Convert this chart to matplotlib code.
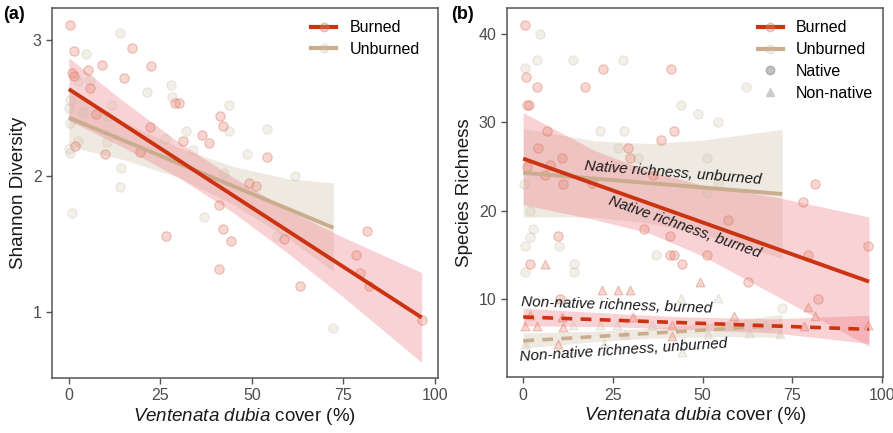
import matplotlib
matplotlib.use("Agg")
import matplotlib.pyplot as plt
from matplotlib.lines import Line2D

plt.rcParams['font.family'] = ['Liberation Sans', 'DejaVu Sans']
plt.rcParams['mathtext.fontset'] = 'custom'
plt.rcParams['mathtext.it'] = 'Liberation Sans:italic'
plt.rcParams['mathtext.rm'] = 'Liberation Sans'

# ---- panel (a): Shannon diversity ----
A_BURN_X = [0.4, 1.3, 0.8, 1.3, 5.2, 9.0, 5.8, 15.1, 17.2, 22.4, 29.0, 30.0, 22.2, 1.8, 10.0,
            19.5, 7.5, 31.3, 36.5, 38.4, 41.3, 42.1, 54.1, 49.3, 51.2, 40.9, 26.5, 42.1, 44.3,
            40.9, 58.8, 63.2, 81.5, 78.4, 79.5, 82.1, 96.4]
A_BURN_Y = [3.11, 2.92, 2.76, 2.74, 2.78, 2.82, 2.65, 2.72, 2.94, 2.81, 2.54, 2.54, 2.36, 2.22, 2.16,
            2.18, 2.46, 2.26, 2.30, 2.24, 2.44, 2.37, 2.14, 1.95, 1.93, 1.79, 1.56, 1.61, 1.52,
            1.32, 1.54, 1.19, 1.60, 1.42, 1.29, 1.19, 0.94]
A_UNB_X = [13.9, 4.8, 2.6, 0.4, 0.0, 0.4, 2.6, 0.0, 0.4, 3.9, 5.9, 11.8, 10.4, 10.4, 14.2, 14.0,
           21.3, 27.9, 28.2, 26.3, 32.1, 33.9, 43.9, 43.9, 48.6, 54.1, 42.4, 61.8, 0.9, 37.0,
           56.8, 72.3]
A_UNB_Y = [3.05, 2.90, 2.70, 2.56, 2.50, 2.39, 2.26, 2.20, 2.17, 2.47, 2.71, 2.52, 2.44, 2.25, 2.06, 1.92,
           2.62, 2.67, 2.58, 2.27, 2.33, 2.19, 2.52, 2.33, 2.16, 2.35, 2.02, 2.00, 1.73, 1.70,
           1.56, 0.88]

# fitted lines (start, end) and confidence bands
A_BURN_FIT_X = [0, 96.4]
A_BURN_FIT_Y = [2.64, 0.96]
A_BURN_BAND_X = [0, 15, 30, 45, 60, 75, 96.4]
A_BURN_BAND_LO = [2.41, 2.21, 1.99, 1.73, 1.43, 1.11, 0.63]
A_BURN_BAND_HI = [2.87, 2.55, 2.25, 1.99, 1.75, 1.55, 1.29]
A_UNB_FIT_X = [0, 72.3]
A_UNB_FIT_Y = [2.43, 1.62]
A_UNB_BAND_X = [0, 15, 30, 45, 60, 72.3]
A_UNB_BAND_LO = [2.22, 2.12, 1.99, 1.79, 1.54, 1.30]
A_UNB_BAND_HI = [2.64, 2.40, 2.21, 2.07, 1.98, 1.95]

# ---- panel (b): species richness ----
NAT_BURN_X = [0.6, 0.8, 3.8, 1.0, 1.6, 22.2, 17.3, 41.2, 6.6, 42.1, 38.4, 4.1, 10.8, 29.2, 29.8,
              1.0, 7.5, 6.1, 11.2, 19.1, 36.3, 9.8, 1.8, 40.9, 40.9, 42.1, 44.2, 33.7, 51.2, 57.2,
              62.8, 79.5, 78.1, 81.3, 96.2, 82.3, 10.3]
NAT_BURN_Y = [41.0, 35.1, 34.0, 32.0, 32.0, 36.0, 34.0, 36.0, 29.0, 29.0, 28.0, 27.1, 26.0, 27.1, 26.0,
              25.0, 25.2, 24.0, 23.0, 23.1, 24.0, 17.1, 14.0, 17.1, 15.0, 15.0, 14.0, 18.0, 15.0, 19.0,
              12.0, 15.0, 21.0, 23.0, 16.0, 10.0, 10.0]
NAT_UNB_X = [4.7, 3.8, 0.4, 13.8, 27.8, 44.0, 48.7, 21.4, 28.1, 62.0, 54.2, 26.4, 32.1, 51.3, 0.1,
             54.4, 51.2, 1.9, 2.6, 1.9, 0.4, 10.1, 0.6, 14.3, 14.2, 37.0, 72.2]
NAT_UNB_Y = [40.0, 37.1, 36.1, 37.1, 37.1, 32.0, 31.0, 29.0, 29.0, 34.0, 30.0, 27.1, 26.0, 26.0, 23.0,
             23.1, 22.0, 20.0, 18.0, 17.0, 16.0, 16.0, 13.1, 14.0, 13.1, 15.0, 9.0]
NON_BURN_X = [6.1, 21.9, 26.4, 29.8, 49.3, 58.8, 79.3, 81.3, 96.2, 78.3, 41.4, 9.8, 0.6, 3.8, 1.9,
              10.8, 41.4, 11.2, 30.7]
NON_BURN_Y = [14.0, 11.1, 11.1, 11.1, 12.0, 8.1, 9.1, 8.1, 7.1, 7.0, 5.9, 5.0, 7.0, 7.0, 8.2,
              8.0, 7.1, 6.9, 8.0]
NON_UNB_X = [44.0, 54.2, 44.2, 0.6, 21.4, 26.1, 22.4, 28.4, 35.8, 51.4, 63.0, 57.0, 67.6, 71.6, 14.0]
NON_UNB_Y = [10.1, 10.1, 4.0, 5.0, 7.1, 7.1, 5.0, 6.1, 7.1, 6.1, 6.2, 7.1, 7.1, 6.1, 7.1]

NAT_BURN_FIT_X = [0, 96.4]
NAT_BURN_FIT_Y = [25.9, 12.0]
NAT_BURN_BAND_X = [0, 20, 35, 50, 71, 96.4]
NAT_BURN_BAND_LO = [20.7, 19.0, 17.5, 14.9, 10.3, 4.7]
NAT_BURN_BAND_HI = [31.1, 26.8, 24.5, 22.9, 21.5, 19.3]
NAT_UNB_FIT_X = [0, 72.2]
NAT_UNB_FIT_Y = [24.3, 21.9]
NAT_UNB_BAND_X = [0, 20, 35, 50, 72.2]
NAT_UNB_BAND_LO = [19.3, 19.3, 18.6, 17.4, 14.6]
NAT_UNB_BAND_HI = [29.3, 27.9, 27.6, 28.0, 29.2]
NON_BURN_FIT_X = [0, 96.4]
NON_BURN_FIT_Y = [8.0, 6.6]
NON_BURN_BAND_X = [0, 25, 45, 70, 96.4]
NON_BURN_BAND_LO = [7.0, 6.9, 6.6, 6.2, 5.0]
NON_BURN_BAND_HI = [9.0, 8.4, 8.0, 7.8, 8.2]
NON_UNB_FIT_X = [0, 72.2]
NON_UNB_FIT_Y = [5.3, 7.05]
NON_UNB_BAND_X = [0, 20, 35, 55, 72.2]
NON_UNB_BAND_LO = [4.5, 5.2, 5.6, 5.8, 5.7]
NON_UNB_BAND_HI = [6.2, 6.4, 6.7, 7.4, 8.3]

X_TICKS = [0, 25, 50, 75, 100]

BURN_LINE = '#cc3311'
UNB_LINE = '#c9ad8e'
BURN_FACE = (0.91, 0.55, 0.47, 0.34)
BURN_EDGE = (0.86, 0.45, 0.36, 0.42)
UNB_FACE = (0.82, 0.76, 0.68, 0.26)
UNB_EDGE = (0.78, 0.72, 0.64, 0.30)
BURN_BAND = '#ee6a78'
UNB_BAND = '#c8b496'
TICK_GREY = '#4d4d4d'
XLAB = r'$\mathit{Ventenata\ dubia}$ cover (%)'


def style_axes(ax):
    for sp in ax.spines.values():
        sp.set_color('#555555')
        sp.set_linewidth(1.1)
    ax.tick_params(direction='out', length=4, width=1, color='#555555',
                   labelcolor=TICK_GREY, labelsize=11.5)
    ax.set_xticks(X_TICKS)
    ax.set_xlabel(XLAB, fontsize=13.5, color='#1a1a1a', labelpad=2)


def legend_handles(with_shapes):
    hs = [Line2D([], [], color=BURN_LINE, lw=3, marker='o', ms=6,
                 mfc=BURN_FACE, mec=BURN_EDGE),
          Line2D([], [], color=UNB_LINE, lw=3, marker='o', ms=6,
                 mfc=UNB_FACE, mec=UNB_EDGE)]
    labels = ['Burned', 'Unburned']
    if with_shapes:
        hs += [Line2D([], [], ls='', marker='o', ms=6, mfc='#b3b3b3', mec='#a0a0a0', alpha=0.8),
               Line2D([], [], ls='', marker='^', ms=6, mfc='#cccccc', mec='#cccccc')]
        labels += ['Native', 'Non-native']
    return hs, labels


fig = plt.figure(figsize=(8.93, 4.33), dpi=100)
ax1 = fig.add_axes([0.0582, 0.127, 0.432, 0.854])
ax2 = fig.add_axes([0.5678, 0.129, 0.421, 0.852])

# panel (a)
ax1.fill_between(A_UNB_BAND_X, A_UNB_BAND_LO, A_UNB_BAND_HI, color=UNB_BAND, alpha=0.28, lw=0)
ax1.fill_between(A_BURN_BAND_X, A_BURN_BAND_LO, A_BURN_BAND_HI, color=BURN_BAND, alpha=0.3, lw=0)
ax1.scatter(A_UNB_X, A_UNB_Y, s=45, facecolor=UNB_FACE, edgecolor=UNB_EDGE, lw=0.8)
ax1.scatter(A_BURN_X, A_BURN_Y, s=45, facecolor=BURN_FACE, edgecolor=BURN_EDGE, lw=0.8)
ax1.plot(A_UNB_FIT_X, A_UNB_FIT_Y, color=UNB_LINE, lw=2.8, solid_capstyle='butt')
ax1.plot(A_BURN_FIT_X, A_BURN_FIT_Y, color=BURN_LINE, lw=2.8, solid_capstyle='butt')
ax1.set_xlim(-4.6, 100.8)
ax1.set_ylim(0.515, 3.235)
ax1.set_yticks([1, 2, 3])
ax1.set_ylabel('Shannon Diversity', fontsize=13.5, color='#1a1a1a', labelpad=4)
style_axes(ax1)
h, l = legend_handles(False)
ax1.legend(h, l, loc='upper right', frameon=False, fontsize=11.5, handlelength=1.6,
           handletextpad=0.8, labelspacing=0.4, bbox_to_anchor=(0.99, 1.006))

# panel (b)
ax2.fill_between(NAT_UNB_BAND_X, NAT_UNB_BAND_LO, NAT_UNB_BAND_HI, color=UNB_BAND, alpha=0.28, lw=0)
ax2.fill_between(NAT_BURN_BAND_X, NAT_BURN_BAND_LO, NAT_BURN_BAND_HI, color=BURN_BAND, alpha=0.3, lw=0)
ax2.fill_between(NON_UNB_BAND_X, NON_UNB_BAND_LO, NON_UNB_BAND_HI, color=UNB_BAND, alpha=0.28, lw=0)
ax2.fill_between(NON_BURN_BAND_X, NON_BURN_BAND_LO, NON_BURN_BAND_HI, color=BURN_BAND, alpha=0.3, lw=0)
ax2.scatter(NAT_UNB_X, NAT_UNB_Y, s=45, facecolor=UNB_FACE, edgecolor=UNB_EDGE, lw=0.8)
ax2.scatter(NON_UNB_X, NON_UNB_Y, s=40, marker='^', facecolor=UNB_FACE, edgecolor=UNB_EDGE, lw=0.8)
ax2.scatter(NAT_BURN_X, NAT_BURN_Y, s=45, facecolor=BURN_FACE, edgecolor=BURN_EDGE, lw=0.8)
ax2.scatter(NON_BURN_X, NON_BURN_Y, s=40, marker='^', facecolor=BURN_FACE, edgecolor=BURN_EDGE, lw=0.8)
ax2.plot(NAT_UNB_FIT_X, NAT_UNB_FIT_Y, color=UNB_LINE, lw=2.8, solid_capstyle='butt')
ax2.plot(NAT_BURN_FIT_X, NAT_BURN_FIT_Y, color=BURN_LINE, lw=2.8, solid_capstyle='butt')
ax2.plot(NON_UNB_FIT_X, NON_UNB_FIT_Y, color=UNB_LINE, lw=2.6, dashes=(3, 2.3))
ax2.plot(NON_BURN_FIT_X, NON_BURN_FIT_Y, color=BURN_LINE, lw=2.6, dashes=(3, 2.3))

txt = dict(fontsize=11, style='italic', color='#1a1a1a', ha='center', va='center',
           rotation_mode='anchor')
ax2.text(41.8, 24.3, 'Native richness, unburned', rotation=-4.5, **txt)
ax2.text(45.0, 18.2, 'Native richness, burned', rotation=-19.5, **txt)
ax2.text(26.0, 9.3, 'Non-native richness, burned', rotation=-2, **txt)
ax2.text(28.0, 4.2, 'Non-native richness, unburned', rotation=3.7, **txt)

ax2.set_xlim(-4.5, 100.3)
ax2.set_ylim(1.2, 42.9)
ax2.set_yticks([10, 20, 30, 40])
ax2.set_ylabel('Species Richness', fontsize=13.5, color='#1a1a1a', labelpad=4)
style_axes(ax2)
h, l = legend_handles(True)
ax2.legend(h, l, loc='upper right', frameon=False, fontsize=11.5, handlelength=1.6,
           handletextpad=0.8, labelspacing=0.42, bbox_to_anchor=(1.012, 1.006))

fig.text(0.004, 0.985, '(a)', fontsize=13, weight='bold', va='top', ha='left')
fig.text(0.505, 0.985, '(b)', fontsize=13, weight='bold', va='top', ha='left')

fig.savefig('out.png', dpi=100)
